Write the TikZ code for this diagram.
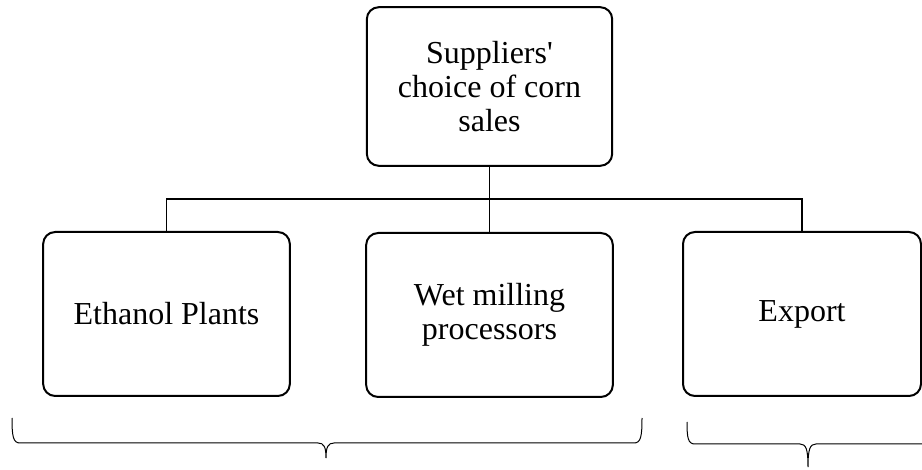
\documentclass[tikz,border=0pt]{standalone}
\usepackage{fontspec}
\setmainfont{Liberation Serif}[Ligatures=TeXOff]
\tikzset{every picture/.style={line width=0.75pt}}

\begin{document}
\begin{tikzpicture}[x=0.75pt,y=0.75pt,yscale=-1,
  box/.style={draw, line width=1.5pt, rounded corners=9pt, align=center,
    font=\fontsize{24}{25.5}\selectfont, minimum width=185pt, minimum height=123pt, inner sep=2pt},
  link/.style={line width=1.1pt}]
\useasboundingbox (0,0) rectangle (922,470);

%Top box
\node[box, minimum width=184pt, minimum height=119pt] (supp) at (489.5,86.5) {Suppliers'\\choice of corn\\sales};
%Bottom boxes
\node[box] (eth) at (166.5,314) {Ethanol Plants};
\node[box] (wet) at (489.5,315) {Wet milling\\processors};
\node[box, minimum width=178.5pt] (exp) at (802,314) {Export};

%Connectors
\coordinate (bar) at (489.5,199);
\draw[link] (supp.south) -- (wet.north);
\draw[link] (eth.north) |- (bar) -| (exp.north);

%Brace under ethanol and wet milling
\draw (12,418) .. controls (12,436) and (13,443) .. (20,443) -- (318,443) .. controls (324,443) and (326,447) .. (326,458) .. controls (326,447) and (328,443) .. (334,443) -- (634,443) .. controls (641,443) and (642,436) .. (642,418);
%Brace under export
\draw (687,422) .. controls (687,438) and (688,444) .. (695,444) -- (800,444) .. controls (806,444) and (808,449) .. (808,467) .. controls (808,449) and (810,444) .. (816,444) -- (921,444) .. controls (928,444) and (929,438) .. (929,422);

\end{tikzpicture}
\end{document}
